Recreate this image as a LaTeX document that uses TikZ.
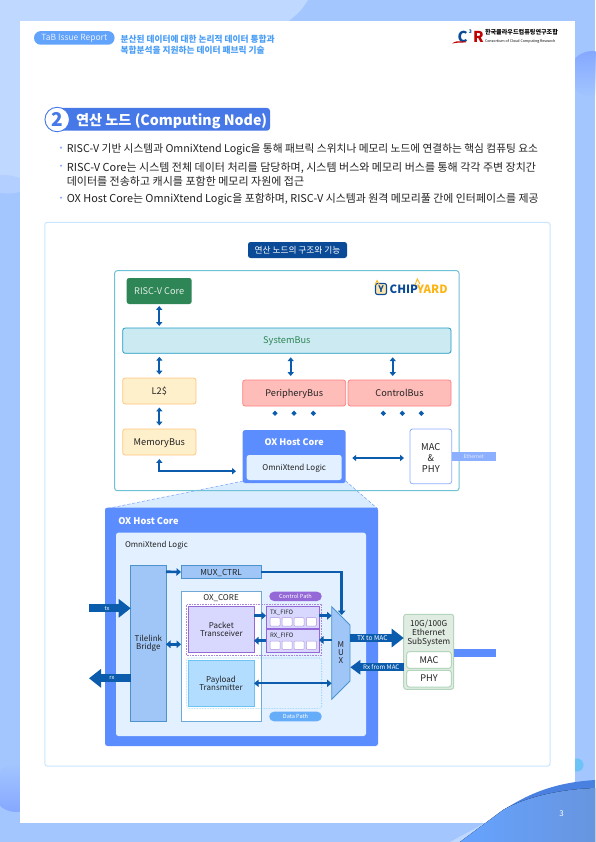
\documentclass[tikz,border=0pt]{standalone}
\usepackage{fontspec}
\setmainfont{Noto Sans CJK KR}
\usepackage{xcolor}
\usetikzlibrary{arrows.meta,positioning,shapes.geometric,calc,fadings}
\definecolor{pagebg}{HTML}{A3C6FF}
\definecolor{pagelt}{HTML}{BED8FF}
\definecolor{pagemid}{HTML}{B2CFFF}
\definecolor{blobc}{HTML}{86A8FF}
\definecolor{oxblue}{HTML}{5C8DFF}
\definecolor{barblue}{HTML}{4678E8}
\definecolor{headblue}{HTML}{4A9EF5}
\definecolor{arrblue}{HTML}{0B5CAD}
\definecolor{navy}{HTML}{0B4A96}
\definecolor{inkc}{HTML}{222222}
\definecolor{palec}{HTML}{E3F0FF}
\definecolor{bridgec}{HTML}{9FC6F7}
\definecolor{bridgeb}{HTML}{4C93CC}
\definecolor{purp}{HTML}{9468D6}
\definecolor{lilac}{HTML}{D8D8FF}
\definecolor{sky}{HTML}{B3DDFF}
\definecolor{skyb}{HTML}{6CC3F5}
\definecolor{grn}{HTML}{2E8555}
\definecolor{sage}{HTML}{E0EBE2}
\definecolor{sageb}{HTML}{B3D6BC}
\definecolor{sysfill}{HTML}{CCEAF2}
\definecolor{sysline}{HTML}{1C9CC4}
\definecolor{creamc}{HTML}{FFF0CC}
\definecolor{creamb}{HTML}{FFC680}
\definecolor{rosec}{HTML}{FFBDBA}
\definecolor{roseb}{HTML}{FF8080}
\definecolor{framec}{HTML}{6FC1D6}
\definecolor{panelc}{HTML}{C8E6FF}
\definecolor{wavedk}{HTML}{4A80E0}
\definecolor{wavea}{HTML}{66A3FF}
\definecolor{waveb}{HTML}{6795DF}
\definecolor{goldc}{HTML}{FDB515}
\newcommand{\fsz}[1]{\fontsize{#1}{1.16em}\selectfont}
\begin{document}
\begin{tikzpicture}[
  x=1pt,y=-1pt,
  box/.style={rectangle,rounded corners=2.5pt,outer sep=0pt,inner sep=0pt,align=center,
              text=inkc,font=\fsz{9.2}},
  one/.style={text height=6.6pt,text depth=0pt},
  tan/.style={box,one,draw=#1,line width=.8pt},
  txt/.style={inner sep=0pt,outer sep=0pt,text=inkc},
  dbl/.style={{Triangle[length=3.8pt,width=6pt]}-{Triangle[length=3.8pt,width=6pt]},
              draw=arrblue,line width=1.9pt},
  arr/.style={-{Triangle[length=4.5pt,width=7.5pt]},draw=arrblue,line width=2.6pt},
  fat/.style={-{Triangle[length=12pt,width=18pt]},draw=arrblue,line width=8pt},
  slim/.style={-{Triangle[length=10pt,width=14pt]},draw=arrblue,line width=8pt},
  lbl/.style={txt,text=white,font=\fsz{5.6}},
  pill/.style={box,rounded corners=4.6pt,text=white,font=\fsz{5.6}},
  bul/.style={txt,anchor=west,align=left},
  tick/.style={circle,fill=oxblue!70,inner sep=0pt,minimum size=2.4pt},
  knob/.style={diamond,fill=arrblue,inner sep=0pt,minimum size=5.5pt},
  cell/.style={box,rounded corners=.8pt,fill=white,draw=purp!70,line width=.5pt,
               minimum width=10pt,minimum height=8.4pt}
]
\useasboundingbox (0,0) rectangle (595,842);
% ---- page background
\fill[pagebg] (0,0) rectangle (595,842);
\fill[pagemid] (0,0) -- (20,0) -- (20,192) .. controls (10,194) .. (0,193) -- cycle;
\fill[pagelt] (0,0) -- (308,0) .. controls (300,12) .. (285,24) -- (20,24)
  -- (20,178) .. controls (10,175) .. (0,175) -- cycle;
\fill[blobc,path fading=north] (16,788) circle (24);
\fill[blobc,path fading=south] (592,74) circle (23);
\fill[skyb] (577,765) circle (6.5);
\node[rectangle,fill=white,minimum width=555pt,minimum height=802pt,inner sep=0pt,outer sep=0pt]
  (sheet) at (297.5,422) {};
\fill[pagelt] (450,842) -- (485,823) -- (495,823) -- (465,842) -- cycle;
\fill[wavedk] (503,810) .. controls (520,800) and (545,783) .. (595,780)
  -- (595,842) -- (460,842) -- cycle;
\fill[left color=wavea,right color=waveb] (460,842) -- (503,810) .. controls (515,803) and (545,790) .. (595,788)
  -- (595,842) -- cycle;
\node[txt,text=white,font=\fsz{8}] (pageno) at (561.6,814) {3};

% ---- header
\node[pill,fill=oxblue!60!skyb,minimum width=80.6pt,minimum height=13.7pt,rounded corners=6.8pt,
  font=\fsz{8.5},text=white!85!oxblue] (issue) at (74.3,37.9) {TaB Issue Report};
\node[txt,anchor=west,align=left,text=headblue,font=\fontsize{8.7}{11}\selectfont\bfseries] (headline) at (120.7,44.5)
  {분산된 데이터에 대한 논리적 데이터 통합과\\복합분석을 지원하는 데이터 패브릭 기술};
\node[txt,text=navy,font=\fsz{15}\bfseries] (logoc) at (462.5,37) {C};
\node[txt,text=navy,font=\fsz{5}\bfseries] (logo3) at (470.5,31.5) {3};
\node[txt,text=red!75!black,font=\fsz{15}\bfseries] (logor) at (478.5,37) {R};
\fill[red!75!black] (452,43.5) .. controls (456,41) .. (466,41.5) -- (466,42.5) .. controls (458,42.5) .. cycle;
\node[txt,text=black,anchor=west,font=\fsz{6.1}\bfseries] (logokr) at (485,32.6) {한국클라우드컴퓨팅연구조합};
\node[txt,text=black,anchor=west,font=\fsz{3.6}] (logoen) at (485,41) {Consortium of Cloud Computing Research};

% ---- section title
\node[box,fill=barblue,minimum width=213pt,minimum height=22.7pt,rounded corners=3pt]
  (titlebar) at (163.5,119.3) {};
\node[txt,anchor=west,text=white,font=\fsz{14.2}\bfseries] (titletxt) at (76,120.8) {연산 노드 (Computing Node)};
\node[circle,draw=barblue,fill=white,line width=.9pt,minimum size=24.5pt,inner sep=0pt,
  text=barblue,font=\fsz{19}\bfseries] (titleno) at (57.2,119.5) {2};

% ---- bullets
\foreach \y [count=\i] in {147.7,165.7,197.7} \node[tick] (tick\i) at (61,\y) {};
\node[bul,font=\fsz{10.7}] (b1) at (66.8,149.3) {RISC-V 기반 시스템과 OmniXtend Logic을 통해 패브릭 스위치나 메모리 노드에 연결하는 핵심 컴퓨팅 요소};
\node[bul,font=\fontsize{11}{14.2}\selectfont] (b2) at (66.8,174.6) {RISC-V Core는 시스템 전체 데이터 처리를 담당하며, 시스템 버스와 메모리 버스를 통해 각각 주변 장치간\\데이터를 전송하고 캐시를 포함한 메모리 자원에 접근};
\node[bul,font=\fsz{10.9}] (b3) at (66.8,199.4) {OX Host Core는 OmniXtend Logic을 포함하며, RISC-V 시스템과 원격 메모리풀 간에 인터페이스를 제공};

% ---- figure panel
\node[box,draw=panelc,line width=1pt,minimum width=505.2pt,minimum height=543.7pt]
  (panel) at (297.4,494.2) {};
\node[box,fill=navy,minimum width=99pt,minimum height=16pt,text=white,font=\fsz{8.7}]
  (figtitle) at (297.5,250) {연산 노드의 구조와 기능};

% ---- zoom wedge, sits under the frame
\coordinate (wedgeL) at (243,481);
\coordinate (wedgeR) at (345.7,481);
\coordinate (wedgeLL) at (105,509);
\coordinate (wedgeRR) at (378,509);
\fill[palec!80!sky] (wedgeL) -- (wedgeLL) -- (wedgeRR) -- (wedgeR) -- cycle;
\draw[oxblue,densely dashed,line width=.4pt] (wedgeL) -- (wedgeLL) (wedgeR) -- (wedgeRR);

% ---- chipyard frame
\node[box,draw=framec,line width=1pt,minimum width=344.3pt,minimum height=220pt]
  (frame) at (286.85,380.7) {};
\node[box,one,fill=grn,minimum width=65pt,minimum height=26pt,text=white!85!grn] (riscv) at (159.2,291) {RISC-V Core};
\node[tan=sysline,fill=sysfill,minimum width=328.3pt,minimum height=25.3pt,text=grn]
  (sysbus) at (286.85,340.65) {SystemBus};
\node[tan=creamb,fill=creamc,minimum width=73.3pt,minimum height=26pt] (ltwo) at (159.35,391) {L2\$};
\node[tan=creamb,fill=creamc,minimum width=73.3pt,minimum height=26pt] (membus) at (159.35,442) {MemoryBus};
\node[tan=roseb,fill=rosec,minimum width=103pt,minimum height=26pt] (perbus) at (294.2,393) {PeripheryBus};
\node[tan=roseb,fill=rosec,minimum width=103pt,minimum height=26pt] (ctrlbus) at (399.5,393) {ControlBus};
\node[box,fill=oxblue,minimum width=103pt,minimum height=53pt] (oxhost) at (294.2,456.5) {};
\node[txt,text=white,font=\fsz{9}\bfseries] (oxhostlbl) at (294.2,442) {OX Host Core};
\node[box,one,fill=palec,minimum width=95pt,minimum height=25pt,font=\fsz{8}] (omni) at (294.2,467.5) {OmniXtend Logic};
\node[box,draw=oxblue!70,line width=.8pt,fill=white,minimum width=41.7pt,minimum height=54.7pt] (macphy) at (430.85,456.35) {};
\node[txt,align=center,font=\fontsize{9.4}{11}\selectfont] (macphylbl) at (430.85,457.8) {MAC\\\&\\PHY};
\node[box,fill=oxblue!70,rounded corners=0pt,minimum width=44pt,minimum height=8.4pt,text=white!85!oxblue,font=\fsz{5}]
  (eth) at (473.7,456.5) {Ethernet};
% logo
\node[box,draw=navy,fill=goldc!35,line width=1.1pt,minimum size=11pt,rounded corners=2pt,text=navy,font=\fsz{9}\bfseries]
  (cyicon) at (381,289) {Y};
\node[txt,anchor=west,text=navy,font=\fsz{11.4}\bfseries] (cychip) at (389.7,289) {CHIP};
\node[txt,anchor=west,text=goldc,font=\fsz{11.4}\bfseries] (cyyard) at (417,289) {YARD};
\draw[goldc,line width=.9pt] (375,285) -- (377,280.5) -- (379,284);
\draw[goldc,line width=.9pt] (415,285) -- (417.3,279) -- (420,284);
\foreach \x [count=\i] in {275,294,313.3,383.3,402.3,421.3} \node[knob] (k\i) at (\x,413.3) {};
\draw[dbl] (riscv.south) ++(0,2) -- ([yshift=2pt]riscv.south|-sysbus.north);
\draw[dbl,shorten <=3.5pt,shorten >=3.5pt] (ltwo.north) -- (ltwo.north|-sysbus.south);
\draw[dbl,shorten <=3.5pt,shorten >=3.5pt] (ltwo) ++(0,13) -- (membus.north);
\draw[dbl,shorten <=4pt,shorten >=4pt] ([xshift=-3.5pt]perbus.north) -- ([xshift=-3.5pt]perbus.north|-sysbus.south);
\draw[dbl,shorten <=4pt,shorten >=4pt] ([xshift=-6.8pt]ctrlbus.north) -- ([xshift=-6.8pt]ctrlbus.north|-sysbus.south);
\draw[dbl] ([yshift=-4pt]membus.south) |- ([xshift=-6.7pt,yshift=-14.7pt]oxhost.west);
\draw[dbl] ([xshift=6.6pt,yshift=-1.5pt]oxhost.east) -- ([xshift=-6pt,yshift=-1.5pt]oxhost.east-|macphy.west);

% ---- OX host core, zoomed
\node[box,fill=oxblue,minimum width=273pt,minimum height=238.3pt] (oxbig) at (241.5,626.85) {};
\node[txt,anchor=west,text=white,font=\fsz{9.2}\bfseries] (oxbiglbl) at (118.3,520.7) {OX Host Core};
\node[box,fill=palec,minimum width=250pt,minimum height=203.3pt] (logic) at (241,634.35) {};
\node[txt,anchor=west,font=\fsz{7.9}] (logiclbl) at (125,545.3) {OmniXtend Logic};
\node[box,draw=bridgeb,fill=bridgec,line width=1pt,rounded corners=0pt,minimum width=35.3pt,minimum height=155.6pt,
  font=\fontsize{8}{8.6}\selectfont] (bridge) at (148.35,643.5) {Tilelink\\Bridge};
\node[box,one,draw=bridgeb,fill=bridgec,line width=1pt,rounded corners=0pt,minimum width=80pt,minimum height=12.6pt,font=\fsz{8.2}]
  (muxctrl) at (221,572) {MUX\_CTRL};
\node[box,draw=bridgeb!80,fill=white,line width=1pt,rounded corners=0pt,minimum width=80pt,minimum height=129.6pt]
  (oxcore) at (221,656.5) {};
\node[txt,font=\fsz{8}] (oxcorelbl) at (221,597.6) {OX\_CORE};
\node[box,draw=purp!80,densely dotted,line width=.6pt,rounded corners=0pt,minimum width=135pt,minimum height=51pt]
  (ctrlarea) at (254.2,629.5) {};
\node[box,draw=skyb,densely dotted,line width=.6pt,rounded corners=2pt,minimum width=135pt,minimum height=50.3pt]
  (dataarea) at (254.2,683.15) {};
\node[box,draw=purp,fill=lilac,line width=.8pt,rounded corners=0pt,minimum width=65.3pt,minimum height=46pt,
  font=\fontsize{8}{8.2}\selectfont] (pkt) at (221.35,629.7) {Packet\\Transceiver};
\node[box,draw=skyb,fill=sky,line width=.8pt,rounded corners=0pt,minimum width=66pt,minimum height=46.4pt,
  font=\fontsize{8}{8.2}\selectfont] (pay) at (221,683.5) {Payload\\Transmitter};
\node[box,draw=purp,fill=lilac,line width=.8pt,rounded corners=0pt,minimum width=53pt,minimum height=21.6pt] (txfifo) at (292.5,617.5) {};
\node[box,draw=purp,fill=lilac,line width=.8pt,rounded corners=0pt,minimum width=53pt,minimum height=23.4pt] (rxfifo) at (292.5,641) {};
\node[txt,anchor=west,font=\fsz{6}] (txlbl) at (270,612.3) {TX\_FIFO};
\node[txt,anchor=west,font=\fsz{6}] (rxlbl) at (270,635.3) {RX\_FIFO};
\foreach \x [count=\i] in {275,287,299,311.3} {
  \node[cell] (txc\i) at (\x,621.8) {};
  \node[cell] (rxc\i) at (\x,645.2) {};
}
\node[pill,fill=purp,minimum width=52.4pt,minimum height=9.3pt] (ctrlpill) at (295.5,596.35) {Control Path};
\node[pill,fill=oxblue!40!skyb,minimum width=52.4pt,minimum height=9.6pt] (datapill) at (295.5,716.5) {Data Path};

% ---- MUX
\node[rectangle,inner sep=0pt,outer sep=0pt,minimum width=18.3pt,minimum height=92.6pt] (mux) at (340.85,653) {};
\draw[bridgeb,fill=bridgec,line width=.8pt] (mux.north west) -- ([yshift=-18.3pt]mux.north east)
  -- ([yshift=18.3pt]mux.south east) -- (mux.south west) -- cycle;
\node[txt,align=center,font=\fontsize{8}{7.6}\selectfont] (muxlbl) at (340.9,652.5) {M\\U\\X};
\coordinate (muxin) at (341.7,615);

% ---- subsystem
\node[box,draw=sageb,fill=sage,line width=1pt,minimum width=50pt,minimum height=75pt] (subsys) at (428.7,651.8) {};
\node[txt,align=center,font=\fontsize{8.2}{8.9}\selectfont] (subsyslbl) at (428.7,633) {10G/100G\\Ethernet\\SubSystem};
\node[box,one,draw=sageb,fill=white,line width=1pt,minimum width=44.6pt,minimum height=16.6pt] (submac) at (429,660) {MAC};
\node[box,one,draw=sageb,fill=white,line width=1pt,minimum width=44.6pt,minimum height=16.7pt] (subphy) at (429,678.65) {PHY};
\node[rectangle,fill=oxblue,inner sep=0pt,outer sep=0pt,minimum width=42pt,minimum height=8.6pt] (bar) at (474.7,653) {};

% ---- data flow
\coordinate (txin) at (89,608.3);
\coordinate (rxout) at (89,678.3);
\draw[fat] (txin) -- (bridge.west|-txin) node[lbl,pos=.43] (txname) {tx};
\draw[fat] (bridge.west|-rxout) -- (rxout) node[lbl,pos=.45] (rxname) {rx};
\draw[arr] ([yshift=.3pt]bridge.east|-muxctrl.west) -- (muxctrl.west);
\draw[arr,{Triangle[length=4.5pt,width=7.5pt]}-{Triangle[length=4.5pt,width=7.5pt]}] (bridge.east|-0,644.3) -- (oxcore.west|-0,644.3);
\draw[arr] (muxctrl.east) -| (muxin);
\draw[arr] (pkt.east|-0,615.7) -- (txfifo.west|-0,615.7);
\draw[arr] (rxfifo.west|-0,640.7) -- (pkt.east|-0,640.7);
\draw[arr] (txfifo.east|-0,615.7) -- (mux.west|-0,615.7);
\draw[arr] (mux.west|-0,640) -- (rxfifo.east|-0,640);
\draw[arr,line width=2pt,{Triangle[length=4.5pt,width=7pt]}-{Triangle[length=4.5pt,width=7pt]}] (pay.east|-0,683.3) -- (mux.west|-0,683.3);
\draw[fat] ([xshift=-.3pt]mux.east|-0,638) -- (subsys.west|-0,638) node[lbl,font=\fsz{6.6},pos=.42] (txmac) {TX to MAC};
\draw[slim] (subsys.west|-0,667.3) -- ([xshift=.3pt]mux.east|-0,667.3) node[lbl,font=\fsz{6.2},pos=.42] (rxmac) {Rx from MAC};
\end{tikzpicture}
\end{document}
